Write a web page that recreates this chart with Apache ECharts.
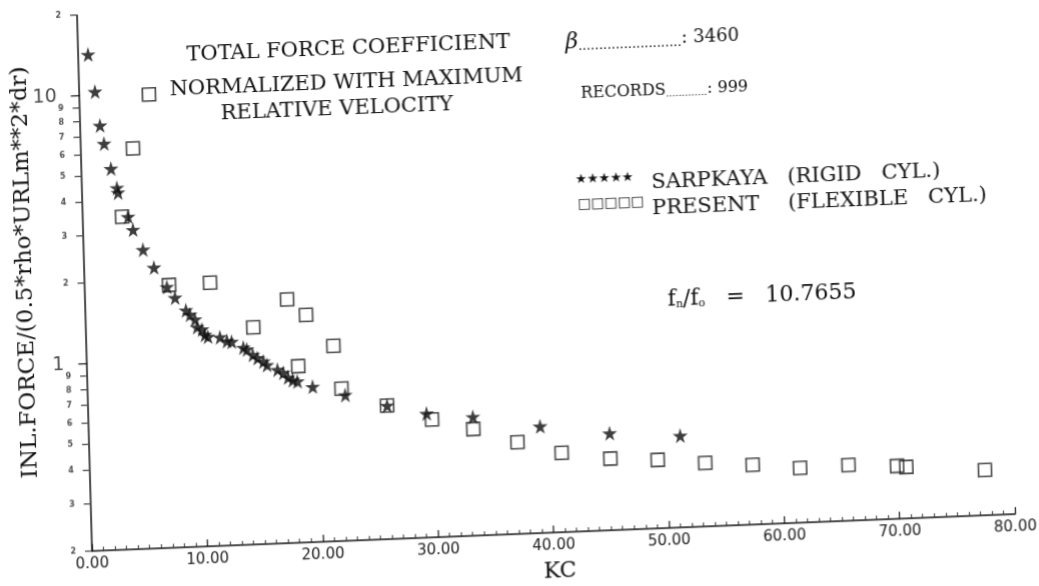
<!DOCTYPE html>
<html>
<head>
<meta charset="utf-8">
<script src="https://cdn.jsdelivr.net/npm/echarts/dist/echarts.min.js"></script>
<style>
  html, body { margin: 0; padding: 0; background: #fff; overflow: hidden; }
  /* the scanned plot is slightly tilted, so the whole drawing is sheared to match */
  #main {
    position: absolute; left: 0; top: 0; width: 1080px; height: 640px;
    transform-origin: 92px 551px;
    transform: matrix(1, -0.040, 0.028, 1, 0, 0);
  }
</style>
</head>
<body>
<div id="main"></div>
<script>
// Sarpkaya (rigid cylinder) - stars
let starKC = [0.86, 1.37, 1.72, 2.03, 2.57, 3.04, 3.12, 3.93, 4.33, 5.15, 6.05, 7.13, 7.80, 8.72, 9.06, 9.48, 9.64, 10.06, 10.3, 10.56, 11.6, 12.2, 12.6, 13.6, 13.9, 14.4, 14.8, 15.3, 15.6, 16.5, 17.0, 17.4, 17.8, 18.2, 19.5, 22.3, 25.9, 29.3, 33.3, 39.1, 45.1, 51.2];
let starF  = [14.2, 10.3, 7.69, 6.57, 5.29, 4.48, 4.30, 3.48, 3.11, 2.61, 2.23, 1.88, 1.71, 1.53, 1.47, 1.41, 1.32, 1.29, 1.23, 1.21, 1.20, 1.16, 1.15, 1.09, 1.07, 1.02, 0.99, 0.96, 0.93, 0.89, 0.865, 0.83, 0.81, 0.80, 0.76, 0.70, 0.63, 0.58, 0.555, 0.50, 0.46, 0.44];

// present (flexible cylinder) - squares
let sqKC = [6.04, 4.52, 3.41, 7.31, 10.87, 14.5, 17.5, 19.1, 18.3, 21.4, 22.0, 25.9, 29.75, 33.3, 37.1, 40.9, 45.1, 49.2, 53.3, 57.4, 61.5, 65.7, 69.9, 70.7, 77.5];
let sqF  = [9.86, 6.24, 3.49, 1.91, 1.92, 1.29, 1.62, 1.41, 0.91, 1.07, 0.74, 0.63, 0.55, 0.50, 0.44, 0.395, 0.37, 0.36, 0.345, 0.334, 0.32, 0.323, 0.315, 0.311, 0.295];

// y axis (log) ticks and their labels
let yTickValues = [0.2, 0.3, 0.4, 0.5, 0.6, 0.7, 0.8, 0.9, 1, 2, 3, 4, 5, 6, 7, 8, 9, 10, 20];
let yTickLabels = ['2', '3', '4', '5', '6', '7', '8', '9', '1', '2', '3', '4', '5', '6', '7', '8', '9', '10', '2'];

let starPath = 'path://M50,0 L61,35 L98,35 L68,57 L79,91 L50,70 L21,91 L32,57 L2,35 L39,35 Z';
let serif = '"DejaVu Serif", "Liberation Serif", serif';

let starData = starKC.map(function (v, i) { return [v, starF[i]]; });
let sqData = sqKC.map(function (v, i) { return [v, sqF[i]]; });
let yTickData = yTickValues.map(function (v, i) {
    let major = (v === 1 || v === 10);
    return {
        value: [0, v],
        symbolSize: major ? [9, 1.5] : [6, 1.2],
        label: {
            formatter: yTickLabels[i],
            fontSize: major ? 19 : 8,
            fontWeight: major ? 'normal' : 'bold',
            distance: major ? 14 : 9
        }
    };
});

let option = {
    animation: false,
    backgroundColor: '#fff',
    grid: { left: 92, top: 15, width: 923, height: 536 },
    xAxis: {
        type: 'value',
        min: 0, max: 80, interval: 10,
        axisLine: { lineStyle: { color: '#111', width: 1.5 } },
        axisTick: { inside: true, length: 7, lineStyle: { color: '#111', width: 1.2 } },
        minorTick: { show: true, splitNumber: 10, length: 4, lineStyle: { color: '#333', width: 1 } },
        splitLine: { show: false },
        axisLabel: {
            color: '#222', fontSize: 15, margin: 6,
            fontFamily: '"DejaVu Sans", sans-serif',
            formatter: function (v) { return v.toFixed(2); }
        }
    },
    yAxis: {
        type: 'log', logBase: 10,
        min: 0.2, max: 20,
        axisLine: { show: true, lineStyle: { color: '#111', width: 1.5 } },
        axisTick: { show: false },
        axisLabel: { show: false },
        splitLine: { show: false }
    },
    series: [
        {
            // tick marks and labels on the log axis
            type: 'scatter',
            clip: false,
            silent: true,
            symbol: 'rect',
            symbolOffset: [-4, 0],
            itemStyle: { color: '#111' },
            label: {
                show: true, position: 'left', color: '#222',
                fontFamily: '"DejaVu Sans", sans-serif'
            },
            data: yTickData,
            z: 1
        },
        {
            name: 'PRESENT (FLEXIBLE CYL.)',
            type: 'scatter',
            clip: false,
            symbol: 'rect',
            symbolSize: 13,
            itemStyle: { color: 'rgba(0,0,0,0)', borderColor: '#1a1a1a', borderWidth: 1.6 },
            data: sqData,
            z: 2
        },
        {
            name: 'SARPKAYA (RIGID CYL.)',
            type: 'scatter',
            clip: false,
            symbol: starPath,
            symbolSize: 15,
            itemStyle: { color: '#0d0d0d' },
            data: starData,
            z: 3
        }
    ],
    graphic: [
        { type: 'text', x: 33, y: 270, rotation: Math.PI / 2,
          style: { text: 'INL.FORCE/(0.5*rho*URLm**2*dr)', font: '23px ' + serif, fill: '#111', align: 'center', verticalAlign: 'middle' } },
        { type: 'text', x: 559, y: 590,
          style: { text: 'KC', font: '22px ' + serif, fill: '#111', align: 'center', verticalAlign: 'middle' } },
        { type: 'text', x: 362, y: 60,
          style: { text: 'TOTAL FORCE COEFFICIENT', font: '21px ' + serif, fill: '#111', align: 'center', verticalAlign: 'middle' } },
        { type: 'text', x: 359, y: 94,
          style: { text: 'NORMALIZED WITH MAXIMUM', font: '21px ' + serif, fill: '#111', align: 'center', verticalAlign: 'middle' } },
        { type: 'text', x: 349, y: 120,
          style: { text: 'RELATIVE VELOCITY', font: '21px ' + serif, fill: '#111', align: 'center', verticalAlign: 'middle' } },
        { type: 'text', x: 579, y: 62,
          style: {
              text: '{b|β}{d|.........................}: 3460',
              font: '18px ' + serif, fill: '#111', verticalAlign: 'middle',
              rich: {
                  b: { fontSize: 22, fontStyle: 'italic', fontFamily: serif, fill: '#111' },
                  d: { fontSize: 13, fontFamily: serif, fill: '#111', verticalAlign: 'bottom' }
              }
          } },
        { type: 'text', x: 593, y: 114,
          style: {
              text: 'RECORDS{d|.............}: 999',
              font: '16px ' + serif, fill: '#111', verticalAlign: 'middle',
              rich: { d: { fontSize: 10, fontFamily: serif, fill: '#111', verticalAlign: 'bottom' } }
          } },
        { type: 'text', x: 585, y: 200,
          style: { text: '★★★★★', font: '13px "DejaVu Sans", sans-serif', fill: '#111', verticalAlign: 'middle' } },
        { type: 'text', x: 661, y: 206,
          style: { text: 'SARPKAYA', font: '21px ' + serif, fill: '#111', verticalAlign: 'middle' } },
        { type: 'text', x: 797, y: 206,
          style: { text: '(RIGID   CYL.)', font: '21px ' + serif, fill: '#111', verticalAlign: 'middle' } },
        { type: 'text', x: 587, y: 224,
          style: { text: '□□□□□', font: '14px "DejaVu Sans", sans-serif', fill: '#111', verticalAlign: 'middle' } },
        { type: 'text', x: 661, y: 232,
          style: { text: 'PRESENT', font: '21px ' + serif, fill: '#111', verticalAlign: 'middle' } },
        { type: 'text', x: 797, y: 232,
          style: { text: '(FLEXIBLE   CYL.)', font: '21px ' + serif, fill: '#111', verticalAlign: 'middle' } },
        { type: 'text', x: 674, y: 323,
          style: {
              text: 'f{s|n}/f{s|o}   =   10.7655',
              font: '22px ' + serif, fill: '#111', verticalAlign: 'middle',
              rich: { s: { fontSize: 11, fontFamily: serif, verticalAlign: 'bottom', fill: '#111' } }
          } }
    ]
};

let myChart = echarts.init(document.getElementById('main'));
myChart.setOption(option);
</script>
</body>
</html>
